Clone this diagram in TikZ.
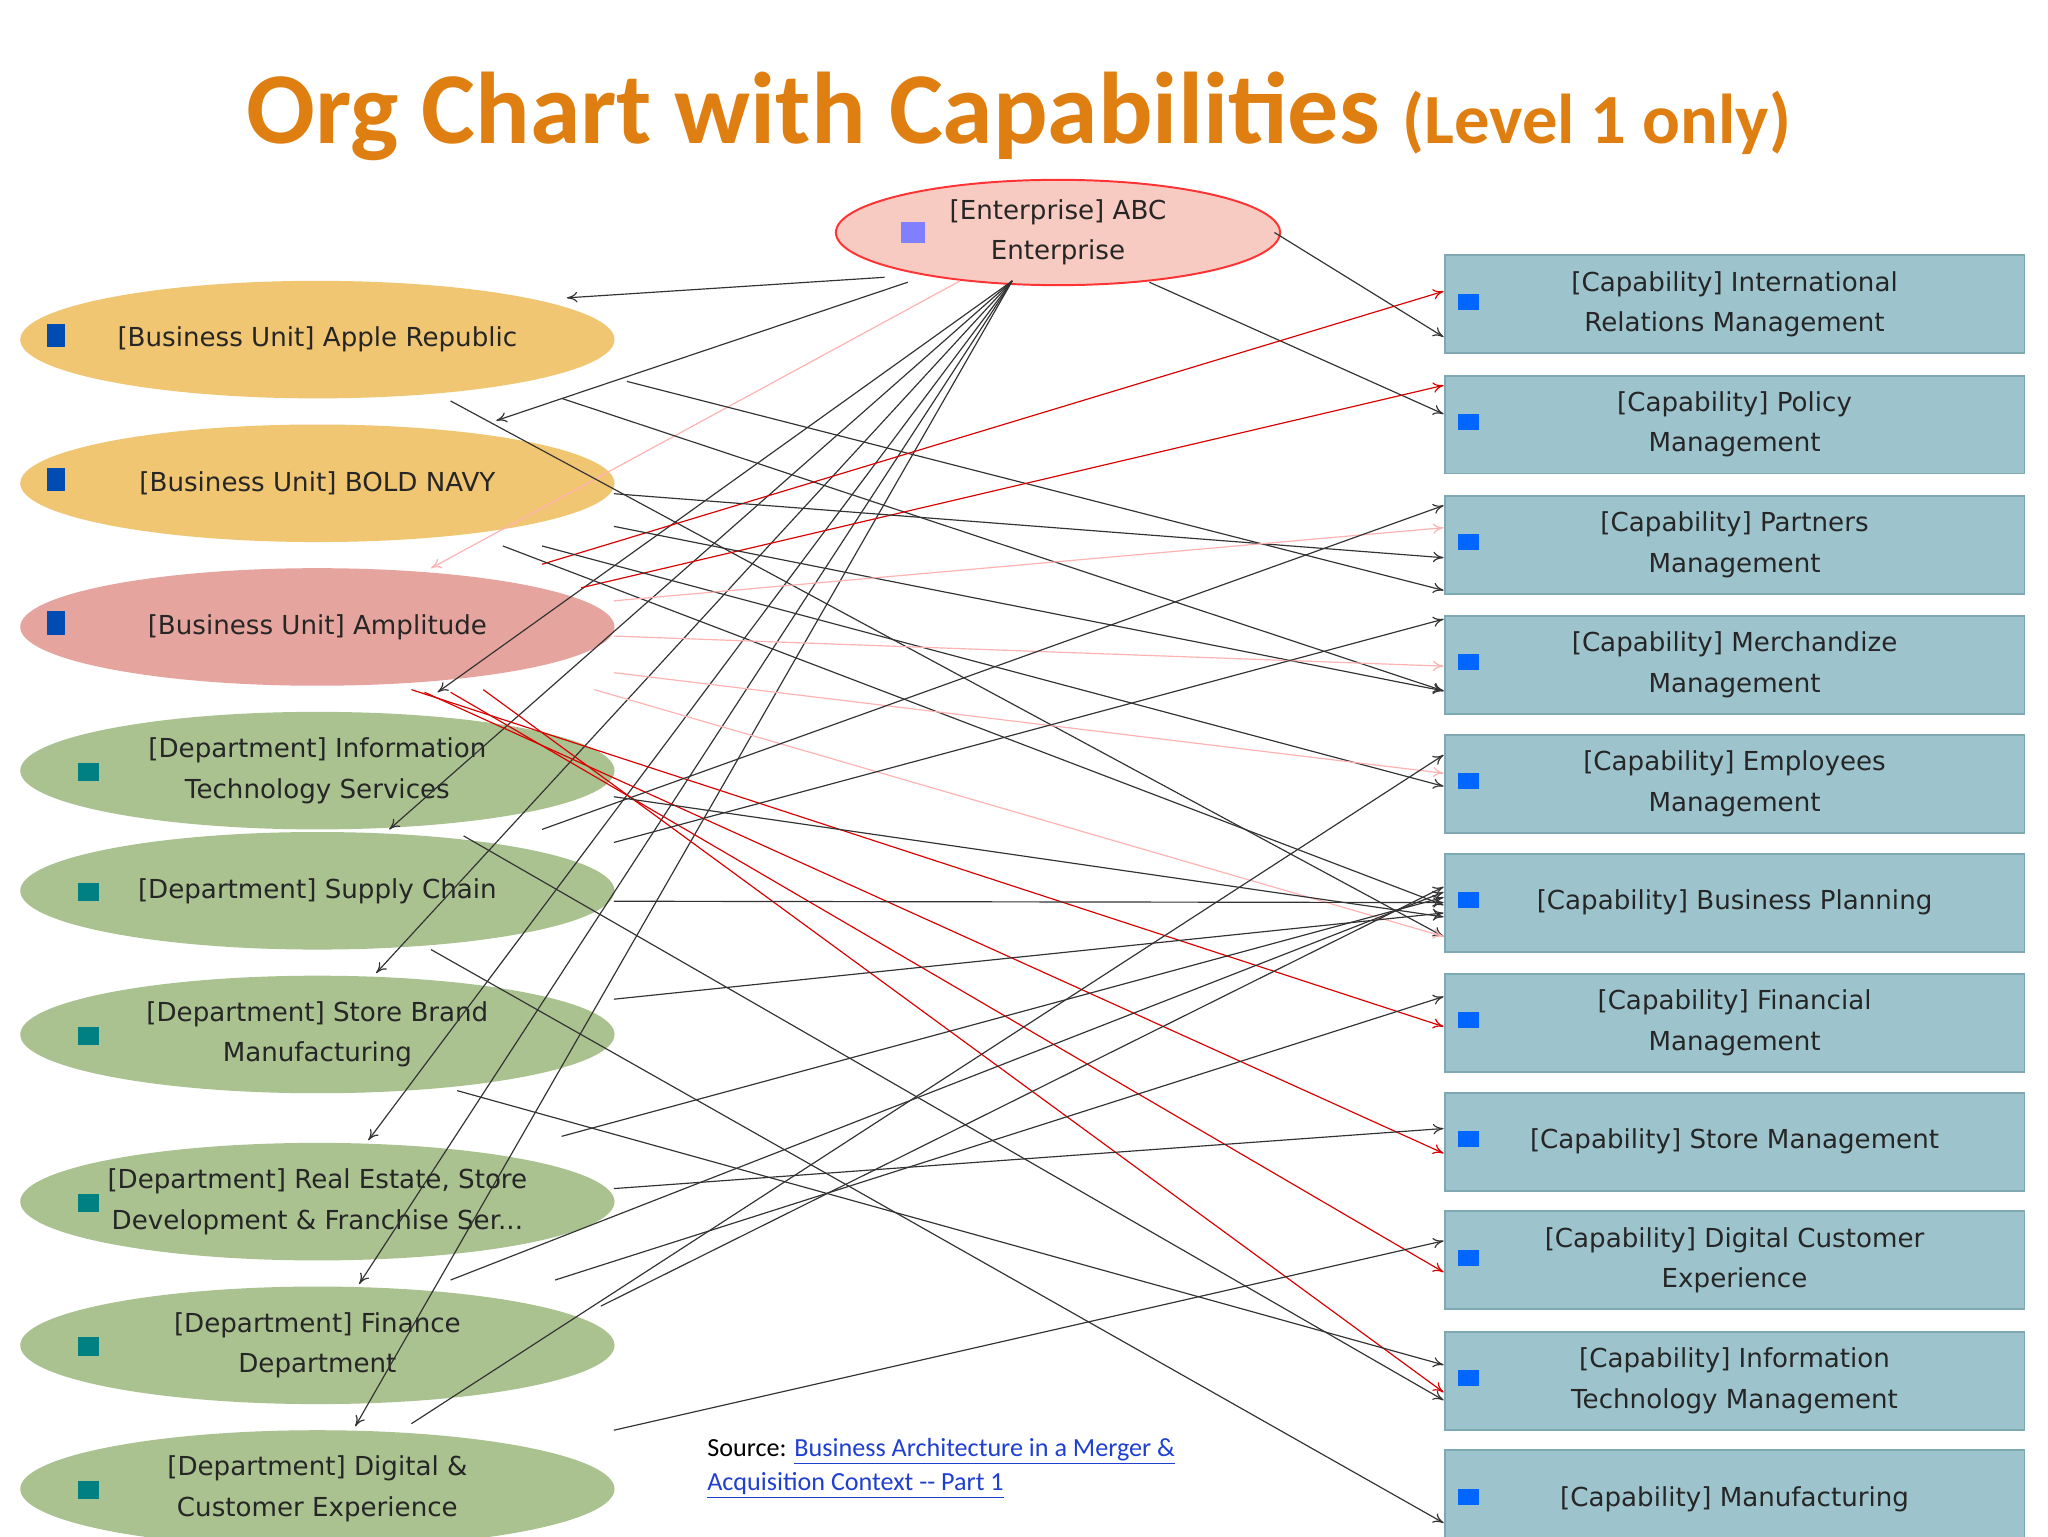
\documentclass[tikz,border=0pt]{standalone}
\usepackage{fontspec}
\setmainfont{DejaVu Sans}
\newfontfamily\calib{Carlito}
\usetikzlibrary{shapes.geometric,arrows.meta}
\definecolor{ttl}{HTML}{DF7F12}
\definecolor{buor}{HTML}{F1C673}
\definecolor{bupk}{HTML}{E6A49E}
\definecolor{dpgr}{HTML}{AAC190}
\definecolor{capf}{HTML}{9DC4CC}
\definecolor{capd}{HTML}{7FA9B2}
\definecolor{entf}{HTML}{F8CBC2}
\definecolor{lnk}{HTML}{1F3FD0}
\tikzset{
 ell/.style={ellipse,minimum width=455pt,minimum height=90pt,inner sep=0pt,align=center,
   font=\fontsize{20}{31}\selectfont,text=black!85},
 buo/.style={ell,fill=buor},
 bup/.style={ell,fill=bupk},
 dep/.style={ell,fill=dpgr},
 capbox/.style={rectangle,minimum width=444pt,minimum height=75pt,fill=capf,draw=capd,line width=1.5pt,
   align=center,font=\fontsize{20}{31}\selectfont,text=black!85},
 ar/.style={-{To[length=8pt,width=8pt]},line width=0.9pt,black!80},
 rar/.style={ar,red!85!black},
 par/.style={ar,red!30},
}
\begin{document}
\begin{tikzpicture}[x=1pt,y=-1pt]
\fill[white] (0,0) rectangle (1568,1176);
\useasboundingbox (0,0) rectangle (1568,1176);
\node[font=\calib\bfseries,text=ttl,anchor=base] (title) at (780,110)
 {\fontsize{78}{80}\selectfont Org Chart with Capabilities \fontsize{54}{60}\selectfont(Level 1 only)};
% enterprise
\node[ellipse,minimum width=340pt,minimum height=72pt,fill=entf,draw=red!80,line width=1.5pt,align=center,
 font=\fontsize{20}{31}\selectfont,text=black!85] (ent) at (810,178) {[Enterprise] ABC\\Enterprise};
% left
\node[buo] (b1) at (243,260) {[Business Unit] Apple Republic};
\node[buo] (b2) at (243,370) {[Business Unit] BOLD NAVY};
\node[bup] (b3) at (243,480) {[Business Unit] Amplitude};
\node[dep] (d1) at (243,590) {[Department] Information\\Technology Services};
\node[dep] (d2) at (243,682) {[Department] Supply Chain};
\node[dep] (d3) at (243,792) {[Department] Store Brand\\Manufacturing};
\node[dep] (d4) at (243,920) {[Department] Real Estate, Store\\Development \& Franchise Ser...};
\node[dep] (d5) at (243,1030) {[Department] Finance\\Department};
\node[dep] (d6) at (243,1140) {[Department] Digital \&\\Customer Experience};
% right
\node[capbox] (c1) at (1328,233) {[Capability] International\\Relations Management};
\node[capbox] (c2) at (1328,325) {[Capability] Policy\\Management};
\node[capbox] (c3) at (1328,417) {[Capability] Partners\\Management};
\node[capbox] (c4) at (1328,509) {[Capability] Merchandize\\Management};
\node[capbox] (c5) at (1328,600) {[Capability] Employees\\Management};
\node[capbox] (c6) at (1328,691) {[Capability] Business Planning};
\node[capbox] (c7) at (1328,783) {[Capability] Financial\\Management};
\node[capbox] (c8) at (1328,874) {[Capability] Store Management};
\node[capbox] (c9) at (1328,965) {[Capability] Digital Customer\\Experience};
\node[capbox] (c10) at (1328,1057) {[Capability] Information\\Technology Management};
\node[capbox] (c11) at (1328,1148) {[Capability] Manufacturing};
% icons
\foreach \y in {233,325,417,509,600,691,783,874,965,1057,1148}
  \fill[blue!60!cyan] (1116,\y-8) rectangle (1132,\y+4);
\foreach \y in {260,370,480} \fill[blue!40!teal] (36,\y-12) rectangle (50,\y+6);
\foreach \y in {590,682,792,920,1030,1140} \fill[green!50!blue] (60,\y-6) rectangle (76,\y+8);
\fill[blue!50] (690,170) rectangle (708,186);
% enterprise arrows
\draw[ar] (ent.190) ++(5,10) coordinate (e0) -- ([xshift=30pt]b1.north east);
\draw[ar] ([xshift=-5pt]ent.east) -- ([yshift=-25pt]c1.west);
\draw[ar] ([xshift=70pt,yshift=3pt]ent.south) -- ([yshift=8pt]c2.west);
\draw[ar] ([xshift=-115pt,yshift=3pt]ent.south) -- (380,322);
\draw[par] ([xshift=-75pt,yshift=4pt]ent.south) -- (330,435);
\foreach \t in {(335,530),(298,635),(288,745),(282,873),(275,983),(272,1092)}
  \draw[ar] ([xshift=-35pt,yshift=4pt]ent.south) -- \t;
% Apple Republic
\draw[ar] (480,292) -- ([yshift=-35pt]c3.west);
\draw[ar] (345,307) -- ([yshift=-26pt]c6.west);
\draw[ar] (430,305) -- ([yshift=-20pt]c4.west);
% Bold Navy
\draw[rar] (415,432) -- ([yshift=10pt]c1.west);
\draw[rar] (445,450) -- ([yshift=30pt]c2.west);
\draw[ar] (470,378) -- ([yshift=-10pt]c3.west);
\draw[ar] (470,403) -- ([yshift=-20pt]c4.west);
\draw[ar] (385,418) -- ([yshift=-2pt]c6.west);
\draw[ar] (415,418) -- ([yshift=-2pt]c5.west);
% Amplitude
\draw[par] (470,460) -- ([yshift=13pt]c3.west);
\draw[par] (470,487) -- ([yshift=-1pt]c4.west);
\draw[par] (470,515) -- ([yshift=8pt]c5.west);
\draw[par] (455,528) -- ([yshift=-26pt]c6.west);
\draw[rar] (315,528) -- ([yshift=-3pt]c7.west);
\draw[rar] (325,530) -- ([yshift=-9pt]c8.west);
\draw[rar] (345,530) -- ([yshift=-9pt]c9.west);
\draw[rar] (370,528) -- ([yshift=-9pt]c10.west);
% IT services
\draw[ar] (415,635) -- ([yshift=30pt]c3.west);
\draw[ar] (470,645) -- ([yshift=35pt]c4.west);
\draw[ar] (470,610) -- ([yshift=-11pt]c6.west);
\draw[ar] (355,640) -- ([yshift=-15pt]c10.west);
% supply chain
\draw[ar] (470,690) -- (c6.west);
\draw[ar] (330,727) -- ([yshift=-18pt]c11.west);
% store brand
\draw[ar] (470,765) -- ([yshift=-8pt]c6.west);
\draw[ar] (350,835) -- ([yshift=12pt]c10.west);
% real estate
\draw[ar] (470,910) -- ([yshift=10pt]c8.west);
\draw[ar] (430,870) -- ([yshift=4pt]c6.west);
\draw[ar] (345,980) -- ([yshift=8pt]c6.west);
\draw[ar] (425,980) -- ([yshift=20pt]c7.west);
% finance / digital
\draw[ar] (460,1000) -- ([yshift=12pt]c6.west);
\draw[ar] (470,1095) -- ([yshift=15pt]c9.west);
\draw[ar] (315,1090) -- ([yshift=22pt]c5.west);
% source
\node[anchor=north west,align=left,font=\calib\fontsize{20}{26}\selectfont] (src) at (538,1098)
 {Source: \textcolor{lnk}{\underline{Business Architecture in a Merger \&}}\\\textcolor{lnk}{\underline{Acquisition Context -- Part 1}}};
\end{tikzpicture}
\end{document}
